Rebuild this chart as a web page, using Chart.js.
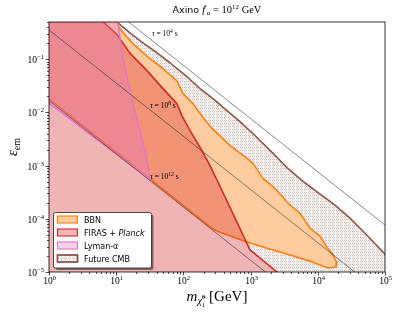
<!DOCTYPE html>
<html>
<head>
<meta charset="utf-8">
<script src="https://cdn.jsdelivr.net/npm/chart.js@4.4.0/dist/chart.umd.min.js"></script>
<style>
  html, body { margin: 0; padding: 0; background: #fff; }
</style>
</head>
<body>
<canvas id="c" width="399" height="315"></canvas>
<script>
// outlines: mass in GeV, eps_em dimensionless
// points outside the frame only close the shapes
const bbnMass = [9.5, 10.3, 11.4, 17.8, 31.8, 48, 80, 98.6, 139, 196, 267, 493, 884, 1085, 1530, 2300, 3860, 5430, 7650, 10800, 13700, 16800, 19300, 18700, 14200, 7650, 3860, 1750, 884, 350, 276, 0.5, 0.5];
const bbnEps = [1, 0.5, 0.37, 0.194, 0.102, 0.069, 0.039, 0.0225, 0.0146, 0.008, 0.005, 0.0024, 0.00136, 0.0011, 5.75e-4, 3.74e-4, 1.8e-4, 1.27e-4, 6.7e-5, 4.7e-5, 2.9e-5, 2.1e-5, 1.48e-5, 1.24e-5, 1.19e-5, 1.6e-5, 2.08e-5, 2.8e-5, 3.65e-5, 5.6e-5, 6.4e-5, 0.0356, 1];

const firasMass = [0.5, 5.5, 6.4, 10.3, 16, 28.7, 49.7, 80, 95, 125, 177, 249, 375, 980, 2470, 3000, 0.5];
const firasEps = [1, 0.6, 0.5, 0.29, 0.13, 0.061, 0.028, 0.0146, 0.0087, 0.0046, 0.0022, 0.001, 3.4e-4, 2.6e-5, 1e-5, 7e-6, 1e-6];

const lyaMass = [0.5, 10.4, 10.6, 11.8, 13.5, 17.2, 22.6, 27.7, 31.8, 0.5];
const lyaEps = [1, 1, 0.5, 0.178, 0.069, 0.0166, 0.0046, 0.00155, 5.5e-4, 0.0286];

const cmbMass = [9.5, 10.3, 16, 25, 40.5, 63, 113, 177, 276, 445, 695, 1160, 1945, 3480, 6030, 10800, 18000, 30100, 55800, 1e5, 2e5, 2e5, 0.5, 0.5];
const cmbEps = [1, 0.5, 0.312, 0.203, 0.132, 0.0857, 0.0468, 0.0279, 0.0181, 0.0108, 0.00673, 0.00368, 0.00193, 9.2e-4, 5.06e-4, 2.9e-4, 1.8e-4, 1.03e-4, 4.7e-5, 2.17e-5, 7e-6, 1e-6, 1e-6, 1];

// lifetime contours
const tau4Mass = [10, 2e5];
const tau4Eps = [0.767, 3.8e-5];
const tau8Mass = [0.5, 1e5];
const tau8Eps = [0.71, 3.55e-6];
const tau12Mass = [0.5, 5000];
const tau12Eps = [0.0332, 3.32e-6];

// where the contour labels sit (left edge, middle)
const tauLabelExp = ['4', '8', '12'];
const tauLabelMass = [34, 31.8, 32];
const tauLabelEps = [0.3, 0.0134, 6.3e-4];

const legendLabels = ['BBN', 'FIRAS + Planck', 'Lyman-\u03b1', 'Future CMB'];

const pts = (xs, ys) => xs.map((x, i) => ({ x, y: ys[i] }));

const SERIF = 'Liberation Serif';
const SANS = 'DejaVu Sans';

// dotted hatch like matplotlib "...."
const hatch = (() => {
  const c = document.createElement('canvas');
  c.width = 4; c.height = 3;
  const g = c.getContext('2d');
  g.fillStyle = '#f6f2f1';
  g.fillRect(0, 0, 4, 3);
  g.fillStyle = '#cdbdb9';
  [[0, 0], [2, 0], [1, 1.5]].forEach(([a, b]) => g.fillRect(a, b, 1, 1));
  return g.createPattern(c, 'repeat');
})();

const area = (data, fill, edge, order, extra) => Object.assign({
  data, backgroundColor: fill, borderColor: edge, borderWidth: 1.6,
  fill: 'shape', showLine: true, pointRadius: 0, tension: 0,
  borderJoinStyle: 'round', clip: 0, order
}, extra || {});

const line = (data) => ({
  data, borderColor: '#222', borderWidth: 0.55, showLine: true,
  pointRadius: 0, fill: false, clip: 0, order: 0
});

const isPow = v => Math.abs(Math.log10(v) - Math.round(Math.log10(v))) < 1e-6;

function logTicks(scale) {
  const out = [];
  const lo = Math.floor(Math.log10(scale.min)), hi = Math.ceil(Math.log10(scale.max));
  for (let e = lo; e <= hi; e++) {
    for (let k = 1; k < 10; k++) {
      const v = k * Math.pow(10, e);
      if (v >= scale.min * 0.999 && v <= scale.max * 1.001) out.push({ value: v });
    }
  }
  scale.ticks = out;
}

// text with super/subscripts: [text, font, dy, noAdvance]
function drawRich(ctx, parts, x, y, align) {
  let w = 0;
  parts.forEach(p => { if (!p[3]) { ctx.font = p[1]; w += ctx.measureText(p[0]).width; } });
  let cx = align === 'center' ? x - w / 2 : align === 'right' ? x - w : x;
  ctx.textAlign = 'left';
  ctx.textBaseline = 'alphabetic';
  parts.forEach(p => {
    ctx.font = p[1];
    ctx.fillText(p[0], cx, y + (p[2] || 0));
    if (!p[3]) cx += ctx.measureText(p[0]).width;
  });
}

const exp = v => String(Math.round(Math.log10(v))).replace('-', '\u2212');

const decor = {
  id: 'decor',
  afterDraw(chart) {
    const { ctx, chartArea: a, scales: { x, y } } = chart;
    ctx.save();
    ctx.fillStyle = '#000';
    ctx.strokeStyle = '#000';

    // ticks
    ctx.lineWidth = 0.7;
    x.ticks.forEach(t => {
      const px = Math.round(x.getPixelForValue(t.value)) + 0.5;
      const len = isPow(t.value) ? 3.5 : 2;
      ctx.beginPath(); ctx.moveTo(px, a.bottom); ctx.lineTo(px, a.bottom + len); ctx.stroke();
      if (isPow(t.value)) {
        drawRich(ctx, [['10', '9.5px ' + SERIF], [exp(t.value), '6.5px ' + SERIF, -4]], px, a.bottom + 12, 'center');
      }
    });
    y.ticks.forEach(t => {
      const py = Math.round(y.getPixelForValue(t.value)) + 0.5;
      const len = isPow(t.value) ? 3.5 : 2;
      ctx.beginPath(); ctx.moveTo(a.left, py); ctx.lineTo(a.left - len, py); ctx.stroke();
      if (isPow(t.value)) {
        drawRich(ctx, [['10', '9.5px ' + SERIF], [exp(t.value), '6.5px ' + SERIF, -4]], a.left - 5, py + 3, 'right');
      }
    });

    // frame
    ctx.lineWidth = 0.8;
    ctx.strokeRect(a.left, a.top, a.right - a.left, a.bottom - a.top);

    // lifetime labels
    tauLabelExp.forEach((e, i) => {
      const px = x.getPixelForValue(tauLabelMass[i]);
      const py = y.getPixelForValue(tauLabelEps[i]);
      drawRich(ctx, [['\u03c4', 'italic 7.5px ' + SERIF], [' = 10', '7.5px ' + SERIF],
        [e, '5.5px ' + SERIF, -3], [' s', '7.5px ' + SERIF]], px, py + 2.5, 'left');
    });

    // title
    const cx = (a.left + a.right) / 2;
    drawRich(ctx, [['Axino ', '9.5px ' + SANS], ['f', 'italic 10.5px ' + SERIF], ['\u2032', '8px ' + SERIF, -1],
      ['a', 'italic 7px ' + SERIF, 2], [' = 10', '10.5px ' + SERIF], ['12', '7px ' + SERIF, -4],
      [' GeV', '10.5px ' + SERIF]], cx, 13, 'center');

    // x title
    drawRich(ctx, [['m', 'italic 15px ' + SERIF], ['\u03c7\u0303', 'italic 10px ' + SERIF, 3],
      ['0', '7px ' + SERIF, -2, true], ['1', '7px ' + SERIF, 6], [' [GeV]', '15px ' + SERIF]],
      cx, 301, 'center');

    // y title
    ctx.save();
    ctx.translate(13, (a.top + a.bottom) / 2);
    ctx.rotate(-Math.PI / 2);
    drawRich(ctx, [['\u03b5', 'italic 15px ' + SERIF], ['em', '10px ' + SERIF, 3]], 0, 4, 'center');
    ctx.restore();

    // legend
    const lx = 53.5, ly = 212.5, lw = 98, lh = 55.5;
    ctx.fillStyle = 'rgba(0,0,0,0.45)';
    ctx.beginPath(); ctx.roundRect(lx + 2, ly + 2, lw, lh, 2); ctx.fill();
    ctx.fillStyle = '#fff';
    ctx.beginPath(); ctx.roundRect(lx, ly, lw, lh, 2); ctx.fill();
    ctx.lineWidth = 0.8; ctx.strokeStyle = '#222'; ctx.stroke();
    const sets = chart.data.datasets;
    legendLabels.forEach((lab, i) => {
      const ds = sets.find(d => d.label === lab);
      const ry = 219.5 + i * 13;
      ctx.fillStyle = ds.backgroundColor;
      ctx.fillRect(57.5, ry - 3.5, 20, 7);
      ctx.strokeStyle = ds.borderColor;
      ctx.lineWidth = ds.label === 'Future CMB' ? 1.8 : 1.1;
      ctx.strokeRect(57.5, ry - 3.5, 20, 7);
      ctx.fillStyle = '#000';
      if (lab === 'FIRAS + Planck') {
        drawRich(ctx, [['FIRAS + ', '8px ' + SANS], ['Planck', 'italic 8px ' + SANS]], 84, ry + 3, 'left');
      } else {
        drawRich(ctx, [[lab, '8px ' + SANS]], 84, ry + 3, 'left');
      }
    });
    ctx.restore();
  }
};

new Chart(document.getElementById('c'), {
  type: 'scatter',
  data: {
    datasets: [
      Object.assign(line(pts(tau4Mass, tau4Eps)), { label: 'tau4' }),
      Object.assign(line(pts(tau8Mass, tau8Eps)), { label: 'tau8' }),
      Object.assign(line(pts(tau12Mass, tau12Eps)), { label: 'tau12' }),
      area(pts(lyaMass, lyaEps), 'rgba(227,119,194,0.35)', '#e377c2', 1, { label: 'Lyman-\u03b1' }),
      area(pts(firasMass, firasEps), 'rgba(214,39,40,0.35)', '#d62728', 2, { label: 'FIRAS + Planck' }),
      area(pts(bbnMass, bbnEps), 'rgba(255,127,14,0.4)', '#ff7f0e', 3, { label: 'BBN' }),
      // white under-fills so the hatch does not show through
      area(pts(firasMass, firasEps), '#fff', 'rgba(0,0,0,0)', 4, { label: 'mask1', borderWidth: 0 }),
      area(pts(bbnMass, bbnEps), '#fff', 'rgba(0,0,0,0)', 4, { label: 'mask2', borderWidth: 0 }),
      area(pts(cmbMass, cmbEps), hatch, '#8c564b', 5, { label: 'Future CMB' })
    ]
  },
  options: {
    responsive: false,
    animation: false,
    layout: { padding: { left: 0, right: 14, top: 22, bottom: 0 } },
    plugins: { legend: { display: false }, tooltip: { enabled: false }, title: { display: false } },
    scales: {
      x: {
        type: 'logarithmic', min: 1, max: 1e5,
        grid: { display: false }, border: { display: false },
        ticks: { display: false, autoSkip: false },
        afterBuildTicks: logTicks,
        afterFit: s => { s.height = 43; }
      },
      y: {
        type: 'logarithmic', min: 1e-5, max: 0.5,
        grid: { display: false }, border: { display: false },
        ticks: { display: false, autoSkip: false },
        afterBuildTicks: logTicks,
        afterFit: s => { s.width = 49; }
      }
    }
  },
  plugins: [decor]
});
</script>
</body>
</html>
